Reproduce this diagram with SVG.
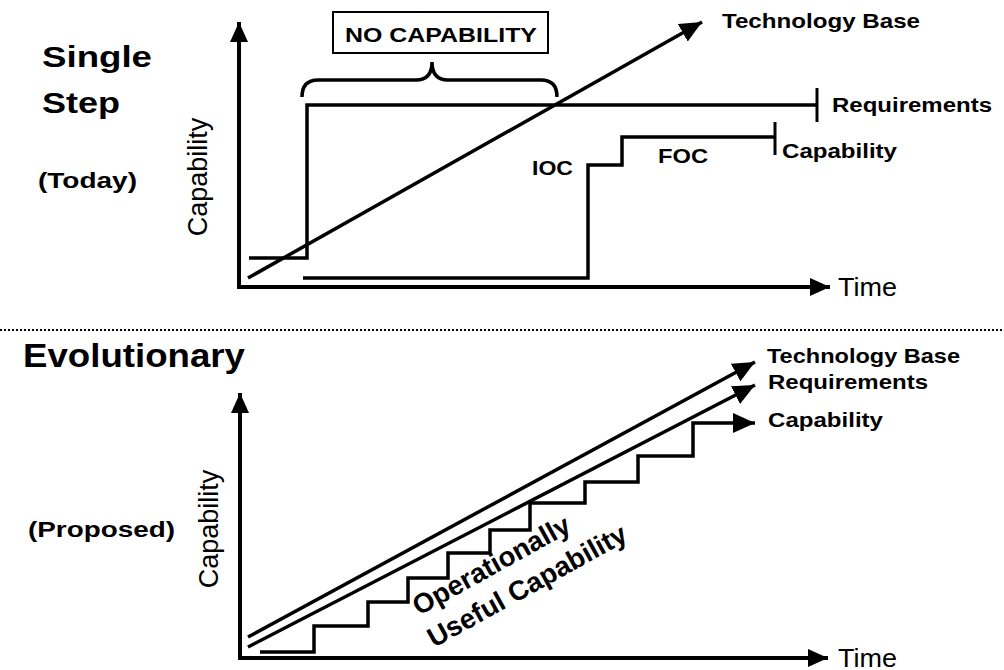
<svg xmlns="http://www.w3.org/2000/svg" width="1004" height="670" viewBox="0 0 1004 670">
<style>
.ln{fill:none;stroke:#000;stroke-width:3.5;stroke-linejoin:miter}
.ax{fill:none;stroke:#000;stroke-width:4}
.b{font-family:"Liberation Sans",Arial,sans-serif;font-weight:bold;fill:#000}
.r{font-family:"Liberation Sans",Arial,sans-serif;fill:#000}
</style>
<defs>
<marker id="ah" markerUnits="userSpaceOnUse" viewBox="0 0 20 18" refX="20" refY="9" markerWidth="20" markerHeight="18" orient="auto">
<path d="M0,0 L20,9 L0,18 z" fill="#000"/>
</marker>
<marker id="ahs" markerUnits="userSpaceOnUse" viewBox="0 0 22 20" refX="22" refY="10" markerWidth="22" markerHeight="20" orient="auto">
<path d="M0,0 L22,10 L0,20 z" fill="#000"/>
</marker>
</defs>
<rect width="1004" height="670" fill="#fff"/>

<g id="titles">
<text class="b" x="42" y="67" font-size="30" textLength="110" lengthAdjust="spacingAndGlyphs">Single</text>
<text class="b" x="42" y="113" font-size="30" textLength="78" lengthAdjust="spacingAndGlyphs">Step</text>
<text class="b" x="38" y="188" font-size="22" textLength="99" lengthAdjust="spacingAndGlyphs">(Today)</text>
<text class="b" x="23" y="367" font-size="33" textLength="222" lengthAdjust="spacingAndGlyphs">Evolutionary</text>
<text class="b" x="28" y="537" font-size="22" textLength="147" lengthAdjust="spacingAndGlyphs">(Proposed)</text>
</g>

<line id="separator" x1="0" y1="330" x2="1004" y2="330" stroke="#000" stroke-width="2" stroke-dasharray="2 2"/>

<g id="top-chart">
<g id="top-axes">
<path class="ax" d="M239,287 V22" marker-end="url(#ah)"/>
<path class="ax" d="M237,287 H830" marker-end="url(#ah)"/>
<text class="r" x="207" y="177" font-size="27" text-anchor="middle" transform="rotate(-90 207 177)">Capability</text>
<text class="r" x="838" y="296" font-size="25" textLength="59" lengthAdjust="spacingAndGlyphs">Time</text>
</g>
<g id="top-no-capability">
<rect x="333" y="12" width="215" height="41" fill="none" stroke="#000" stroke-width="2"/>
<text class="b" x="345" y="42" font-size="20" textLength="192" lengthAdjust="spacingAndGlyphs">NO CAPABILITY</text>
<path class="ln" d="M302,97 Q302,80 318,80 L416,80 Q432,80 432,62 Q432,80 448,80 L541,80 Q557,80 557,97"/>
</g>
<g id="top-requirements">
<path class="ln" d="M249,258 H307 V105 H817"/>
<line x1="817" y1="88" x2="817" y2="122" stroke="#000" stroke-width="3"/>
<text class="b" x="832" y="112" font-size="20" textLength="160" lengthAdjust="spacingAndGlyphs">Requirements</text>
</g>
<g id="top-capability">
<path class="ln" d="M303,278 H588 V165 H622 V137 H775"/>
<line x1="775" y1="122" x2="775" y2="155" stroke="#000" stroke-width="3"/>
<text class="b" x="782" y="158" font-size="20" textLength="115" lengthAdjust="spacingAndGlyphs">Capability</text>
<text class="b" x="532" y="175" font-size="20" textLength="41" lengthAdjust="spacingAndGlyphs">IOC</text>
<text class="b" x="658" y="163" font-size="20" textLength="50" lengthAdjust="spacingAndGlyphs">FOC</text>
</g>
<g id="top-technology">
<path class="ln" d="M248,278 L702,22" marker-end="url(#ahs)"/>
<text class="b" x="722" y="28" font-size="21" textLength="198" lengthAdjust="spacingAndGlyphs">Technology Base</text>
</g>
</g>

<g id="bottom-chart">
<g id="bottom-axes">
<path class="ax" d="M240,658 V393" marker-end="url(#ah)"/>
<path class="ax" d="M238,658 H828" marker-end="url(#ah)"/>
<text class="r" x="218" y="529" font-size="27" text-anchor="middle" transform="rotate(-90 218 529)">Capability</text>
<text class="r" x="838" y="667" font-size="25" textLength="59" lengthAdjust="spacingAndGlyphs">Time</text>
</g>
<g id="bottom-technology">
<path class="ln" d="M248,637 L755,362" marker-end="url(#ahs)"/>
<text class="b" x="767" y="363" font-size="21" textLength="193" lengthAdjust="spacingAndGlyphs">Technology Base</text>
</g>
<g id="bottom-requirements">
<path class="ln" d="M248,647 L755,385" marker-end="url(#ahs)"/>
<text class="b" x="768" y="389" font-size="21" textLength="160" lengthAdjust="spacingAndGlyphs">Requirements</text>
</g>
<g id="bottom-capability">
<path class="ln" d="M260,652 H314 V626 H368 V602 H408 V578 H448 V553 H490 V530 H530 V503 H585 V482 H638 V456 H693 V423 H755" marker-end="url(#ahs)"/>
<text class="b" x="768" y="427" font-size="21" textLength="115" lengthAdjust="spacingAndGlyphs">Capability</text>
</g>
<g id="bottom-label">
<text class="b" x="419" y="616" font-size="27.5" transform="rotate(-29 419 616)">Operationally</text>
<text class="b" x="434" y="648" font-size="27.5" transform="rotate(-29 434 648)">Useful Capability</text>
</g>
</g>
</svg>
